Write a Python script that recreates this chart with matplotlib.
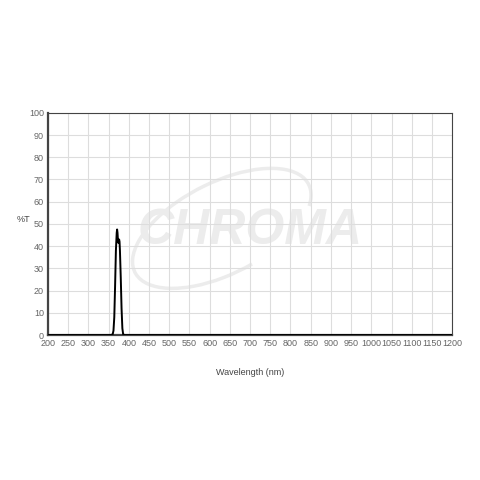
import matplotlib.pyplot as plt
import numpy as np
from matplotlib.patches import Arc

plt.rcParams['font.family'] = ['Liberation Sans', 'DejaVu Sans']

# Transmission spectrum
wavelength = [200, 355, 360, 362, 364, 366, 368, 370, 371, 372, 373, 374, 375, 376, 377, 378, 380, 382, 384, 386, 390, 1200]
transmission = [0, 0, 0.3, 2, 8, 22, 38, 46, 47.5, 46, 43, 41.5, 42.5, 43, 42, 38, 26, 12, 3, 0.3, 0, 0]

xticks = np.arange(200, 1201, 50)
yticks = np.arange(0, 101, 10)

fig = plt.figure(figsize=(4.8, 4.8), dpi=100)
ax = fig.add_axes([0.1, 0.302, 0.842, 0.463])

ax.set_xlim(200, 1200)
ax.set_ylim(0, 100)
ax.set_xticks(xticks)
ax.set_yticks(yticks)
ax.grid(True, color="#dddddd", linewidth=0.8)
ax.set_axisbelow(True)
ax.tick_params(length=0, labelsize=6.5, labelcolor="#666666", pad=3)

for s in ax.spines.values():
    s.set_color("#444444")
    s.set_linewidth(0.8)
ax.spines["left"].set_linewidth(1.6)
ax.spines["bottom"].set_linewidth(1.6)

# watermark
ax.text(0.5, 0.47, "CHROMA", transform=ax.transAxes, fontsize=36, fontweight="bold",
        style="italic", color="#ececec", ha="center", va="center", zorder=0.5)
ax.add_patch(Arc((0.43, 0.48), 0.32, 0.62, angle=-35, theta1=60, theta2=330,
                 transform=ax.transAxes, color="#ececec", linewidth=2.5, zorder=0.5))

ax.plot(wavelength, transmission, color="black", linewidth=1.4, zorder=3)

ax.set_xlabel("Wavelength (nm)", fontsize=6.5, color="#444444", labelpad=14)
ax.set_ylabel("%T", fontsize=6.5, color="#444444", rotation=0, labelpad=4)

plt.savefig("out.png", dpi=100)
